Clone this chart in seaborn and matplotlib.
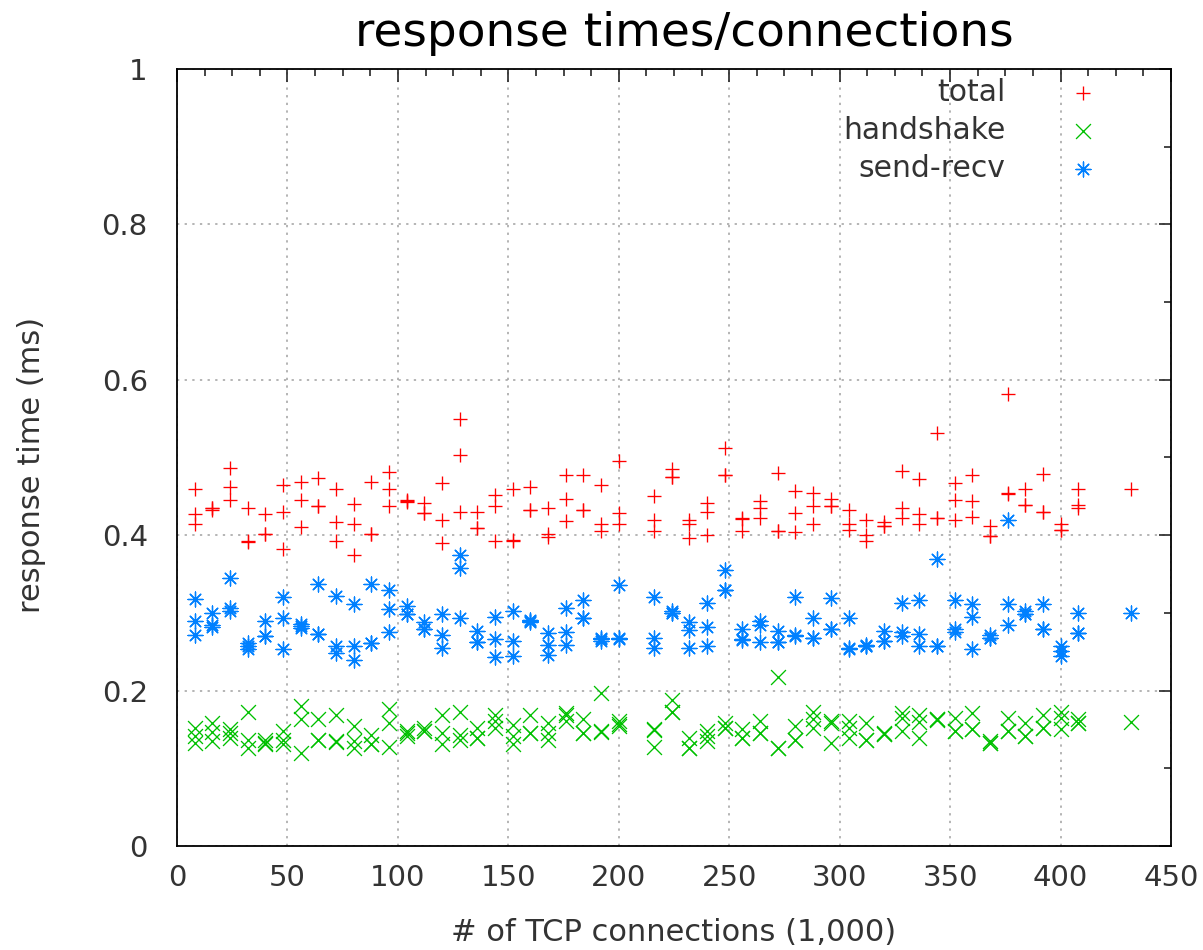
import numpy as np
import pandas as pd
import matplotlib
matplotlib.use("Agg")
import matplotlib.pyplot as plt
import seaborn as sns
from matplotlib.ticker import MultipleLocator, FuncFormatter

# ---------------- data ----------------
connections = [8, 16, 24, 32, 40, 48, 56, 64, 72, 80, 88, 96, 104, 112, 120, 128,
               136, 144, 152, 160, 168, 176, 184, 192, 200, 216, 224, 232, 240,
               248, 256, 264, 272, 280, 288, 296, 304, 312, 320, 328, 336, 344,
               352, 360, 368, 376, 384, 392, 400, 408, 432]

total = [
    [0.460, 0.427, 0.414], [0.435, 0.435, 0.433], [0.487, 0.462, 0.445],
    [0.435, 0.392, 0.391], [0.427, 0.402, 0.402], [0.465, 0.430, 0.382],
    [0.469, 0.445, 0.410], [0.473, 0.437, 0.437], [0.460, 0.417, 0.392],
    [0.440, 0.415, 0.375], [0.469, 0.402, 0.402], [0.481, 0.460, 0.437],
    [0.445, 0.444, 0.443], [0.442, 0.429, 0.429], [0.467, 0.420, 0.390],
    [0.550, 0.503, 0.430], [0.430, 0.409, 0.409], [0.452, 0.438, 0.392],
    [0.460, 0.394, 0.393], [0.462, 0.433, 0.433], [0.435, 0.402, 0.398],
    [0.477, 0.446, 0.418], [0.477, 0.433, 0.433], [0.464, 0.415, 0.405],
    [0.495, 0.429, 0.415], [0.450, 0.420, 0.405], [0.485, 0.475, 0.475],
    [0.420, 0.415, 0.397], [0.442, 0.430, 0.400], [0.512, 0.477, 0.477],
    [0.422, 0.421, 0.405], [0.444, 0.435, 0.422], [0.480, 0.406, 0.406],
    [0.457, 0.429, 0.404], [0.454, 0.437, 0.415], [0.447, 0.437, 0.437],
    [0.433, 0.414, 0.407], [0.419, 0.400, 0.392], [0.417, 0.412, 0.412],
    [0.482, 0.435, 0.422], [0.472, 0.427, 0.415], [0.532, 0.422, 0.422],
    [0.467, 0.445, 0.419], [0.477, 0.444, 0.424], [0.412, 0.399, 0.399],
    [0.582, 0.454, 0.453], [0.460, 0.439, 0.439], [0.479, 0.430, 0.430],
    [0.414, 0.407, 0.407], [0.460, 0.439, 0.435], [0.460],
]

handshake = [
    [0.152, 0.142, 0.133], [0.158, 0.147, 0.135], [0.150, 0.146, 0.139],
    [0.173, 0.137, 0.126], [0.137, 0.133, 0.131], [0.148, 0.137, 0.131],
    [0.180, 0.163, 0.120], [0.163, 0.136, 0.136], [0.169, 0.135, 0.134],
    [0.154, 0.135, 0.126], [0.143, 0.131, 0.131], [0.176, 0.158, 0.128],
    [0.148, 0.145, 0.141], [0.152, 0.148, 0.148], [0.169, 0.145, 0.131],
    [0.173, 0.143, 0.137], [0.152, 0.139, 0.139], [0.169, 0.161, 0.152],
    [0.156, 0.141, 0.131], [0.169, 0.145, 0.145], [0.158, 0.145, 0.137],
    [0.171, 0.169, 0.161], [0.163, 0.145, 0.145], [0.197, 0.148, 0.147],
    [0.161, 0.157, 0.155], [0.150, 0.149, 0.128], [0.188, 0.173, 0.173],
    [0.139, 0.126, 0.126], [0.148, 0.141, 0.135], [0.158, 0.152, 0.152],
    [0.150, 0.139, 0.139], [0.161, 0.145, 0.145], [0.218, 0.126, 0.126],
    [0.154, 0.137, 0.137], [0.173, 0.163, 0.152], [0.161, 0.158, 0.133],
    [0.161, 0.152, 0.139], [0.158, 0.137, 0.137], [0.146, 0.144, 0.144],
    [0.171, 0.165, 0.148], [0.169, 0.160, 0.139], [0.163, 0.163, 0.162],
    [0.165, 0.148, 0.148], [0.171, 0.150, 0.150], [0.135, 0.132, 0.132],
    [0.165, 0.148, 0.148], [0.158, 0.141, 0.141], [0.169, 0.152, 0.152],
    [0.173, 0.165, 0.150], [0.163, 0.158, 0.158], [0.160],
]

send_recv = [
    [0.318, 0.289, 0.272], [0.300, 0.284, 0.282], [0.345, 0.306, 0.302],
    [0.261, 0.257, 0.253], [0.290, 0.270, 0.270], [0.320, 0.294, 0.254],
    [0.286, 0.283, 0.280], [0.337, 0.273, 0.273], [0.322, 0.257, 0.249],
    [0.311, 0.257, 0.240], [0.337, 0.261, 0.261], [0.330, 0.305, 0.276],
    [0.309, 0.299, 0.299], [0.288, 0.279, 0.279], [0.299, 0.272, 0.255],
    [0.375, 0.358, 0.293], [0.277, 0.262, 0.262], [0.295, 0.267, 0.243],
    [0.303, 0.264, 0.244], [0.291, 0.290, 0.288], [0.274, 0.259, 0.246],
    [0.306, 0.275, 0.259], [0.316, 0.294, 0.294], [0.268, 0.266, 0.264],
    [0.336, 0.268, 0.266], [0.320, 0.268, 0.255], [0.303, 0.300, 0.300],
    [0.288, 0.278, 0.255], [0.313, 0.282, 0.257], [0.355, 0.330, 0.330],
    [0.279, 0.266, 0.265], [0.289, 0.285, 0.263], [0.277, 0.263, 0.263],
    [0.320, 0.272, 0.270], [0.293, 0.268, 0.268], [0.319, 0.279, 0.279],
    [0.294, 0.255, 0.253], [0.259, 0.258, 0.257], [0.277, 0.264, 0.264],
    [0.313, 0.276, 0.270], [0.316, 0.273, 0.257], [0.370, 0.258, 0.258],
    [0.316, 0.279, 0.276], [0.311, 0.295, 0.253], [0.272, 0.268, 0.268],
    [0.420, 0.311, 0.285], [0.302, 0.298, 0.298], [0.311, 0.279, 0.279],
    [0.257, 0.251, 0.244], [0.300, 0.274, 0.274], [0.300],
]

series_names = ["total", "handshake", "send-recv"]
series_values = [total, handshake, send_recv]
series_colors = ["#ff0000", "#00c000", "#0080ff"]
series_markers = ["+", "x", (8, 2, 0)]

title_text = "response times/connections"
x_label = "# of TCP connections (1,000)"
y_label = "response time (ms)"

# ---------------- build long table ----------------
rows = []
for name, vals in zip(series_names, series_values):
    for xc, ys in zip(connections, vals):
        for yv in ys:
            rows.append({"connections": xc, "time": yv, "series": name})
df = pd.DataFrame(rows)

# ---------------- plot ----------------
sns.set_style("white")
plt.rcParams["font.family"] = ["DejaVu Sans"]

fig = plt.figure(figsize=(12.03, 9.5), dpi=100)
ax = fig.add_axes([177 / 1203, (950 - 846) / 950, (1171 - 177) / 1203, (846 - 69) / 950])

for name, col, mk in zip(series_names, series_colors, series_markers):
    sub = df[df["series"] == name]
    sns.scatterplot(data=sub, x="connections", y="time", marker=mk, color=col,
                    s=115, linewidth=0.95, label=name, ax=ax, zorder=3)

ax.set_xlim(0, 450)
ax.set_ylim(0, 1)
ax.xaxis.set_major_locator(MultipleLocator(50))
ax.xaxis.set_minor_locator(MultipleLocator(12.5))
ax.yaxis.set_major_locator(MultipleLocator(0.2))
ax.yaxis.set_minor_locator(MultipleLocator(0.1))
ax.yaxis.set_major_formatter(FuncFormatter(lambda v, p: "%g" % round(v, 2)))

ax.grid(True, which="major", color="#a0a0a0", linestyle=(0, (1.5, 3.5)), linewidth=1.1, zorder=0)
for sp in ax.spines.values():
    sp.set_visible(True)
    sp.set_color("black")
    sp.set_linewidth(1.3)

ax.tick_params(which="major", direction="in", top=True, right=True, length=9, width=1.2,
               labelsize=21, labelcolor="#333333")
ax.tick_params(axis="x", which="major", pad=13)
ax.tick_params(axis="y", which="major", pad=21)
ax.tick_params(which="minor", direction="in", top=True, right=True, length=5, width=1.2)

ax.set_xlabel(x_label, fontsize=22, color="#333333", labelpad=19)
ax.set_ylabel(y_label, fontsize=22, color="#333333", labelpad=40)
ax.yaxis.label.set_y(0.49)

fig.text(684 / 1203, 1 - 33 / 950, title_text, fontsize=33.8, color="black",
         ha="center", va="center")

leg = ax.legend(loc="upper right", bbox_to_anchor=((1098 - 177) / 994, 0.988),
                markerfirst=False, frameon=False, fontsize=21.5,
                labelcolor="#333333", handlelength=1.0, handletextpad=2.1,
                labelspacing=0.30, borderaxespad=0.0, borderpad=0.0)

fig.savefig("out.png", dpi=100, facecolor="white")
